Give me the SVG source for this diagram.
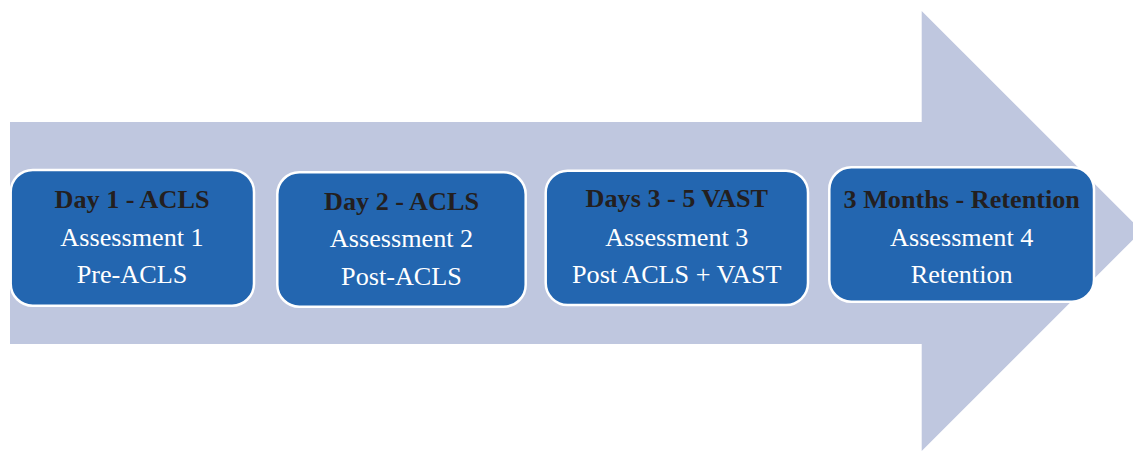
<svg xmlns="http://www.w3.org/2000/svg" width="1133" height="451" viewBox="0 0 1133 451">
  <style>
    .box { fill: #2366B0; stroke: #FFFFFF; stroke-width: 2.5; }
    .head { font-family: "Liberation Serif", "Times New Roman", serif; font-weight: bold; font-size: 26.2px; fill: #231F20; text-anchor: middle; }
    .body { font-family: "Liberation Serif", "Times New Roman", serif; font-size: 26.2px; fill: #FFFFFF; text-anchor: middle; }
  </style>
  <rect width="1133" height="451" fill="#FFFFFF"/>

  <!-- Timeline arrow -->
  <g id="timeline-arrow">
    <polygon points="10,122 921.7,122 921.7,11 1141.7,231 921.7,451 921.7,344 10,344" fill="#BFC7DF"/>
  </g>

  <g id="connectors"></g>

  <!-- Stage boxes -->
  <g id="stage-1">
    <rect class="box" x="10.7" y="170" width="243.3" height="135.7" rx="22"/>
    <text class="head" x="132" y="208">Day 1 - ACLS</text>
    <text class="body" x="132" y="245.7">Assessment 1</text>
    <text class="body" x="132" y="283.3">Pre-ACLS</text>
  </g>

  <g id="stage-2">
    <rect class="box" x="277.3" y="172.3" width="248.4" height="134.4" rx="22"/>
    <text class="head" x="401.5" y="210">Day 2 - ACLS</text>
    <text class="body" x="401.5" y="247.3">Assessment 2</text>
    <text class="body" x="401.5" y="285">Post-ACLS</text>
  </g>

  <g id="stage-3">
    <rect class="box" x="545.7" y="170.7" width="262.3" height="134.3" rx="22"/>
    <text class="head" x="676.8" y="207.3">Days 3 - 5 VAST</text>
    <text class="body" x="676.8" y="246">Assessment 3</text>
    <text class="body" x="676.8" y="283.3">Post ACLS + VAST</text>
  </g>

  <g id="stage-4">
    <rect class="box" x="829.3" y="167.3" width="264.7" height="134.4" rx="22"/>
    <text class="head" x="961.7" y="208.3">3 Months - Retention</text>
    <text class="body" x="961.7" y="246">Assessment 4</text>
    <text class="body" x="961.7" y="283.3">Retention</text>
  </g>
</svg>
